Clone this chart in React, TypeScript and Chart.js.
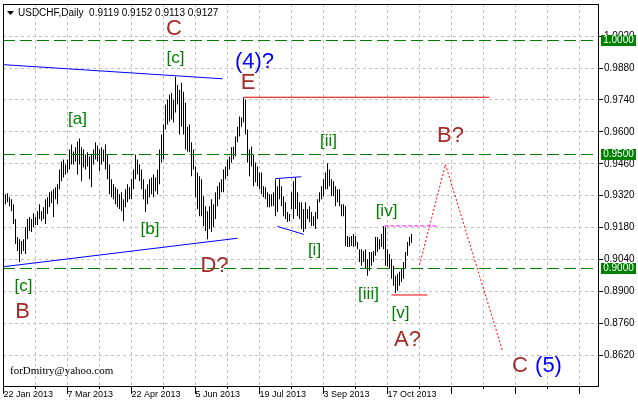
import React, { useEffect, useRef } from 'react';
import { Chart, registerables } from 'chart.js';

Chart.register(...registerables);

// Daily bars (USDCHF, 22 Jan 2013 onward), one entry per trading day
const HIGHS = [
  0.9326, 0.9330, 0.9313, 0.9304, 0.9282, 0.9217, 0.9139, 0.9129, 0.9121, 0.9129,
  0.9182, 0.9217, 0.9226, 0.9217, 0.9243, 0.9226, 0.9252, 0.9282, 0.9252, 0.9269,
  0.9304, 0.9313, 0.9335, 0.9339, 0.9348, 0.9357, 0.9370, 0.9435, 0.9470, 0.9479,
  0.9457, 0.9479, 0.9523, 0.9545, 0.9514, 0.9532, 0.9558, 0.9571, 0.9532, 0.9523,
  0.9501, 0.9510, 0.9492, 0.9501, 0.9523, 0.9554, 0.9540, 0.9523, 0.9532, 0.9523,
  0.9545, 0.9501, 0.9457, 0.9392, 0.9370, 0.9357, 0.9348, 0.9326, 0.9335, 0.9304,
  0.9348, 0.9370, 0.9357, 0.9392, 0.9435, 0.9501, 0.9479, 0.9457, 0.9435, 0.9392,
  0.9348, 0.9370, 0.9392, 0.9400, 0.9413, 0.9400, 0.9435, 0.9523, 0.9588, 0.9632,
  0.9720, 0.9741, 0.9763, 0.9772, 0.9741, 0.9842, 0.9807, 0.9785, 0.9816, 0.9776,
  0.9728, 0.9623, 0.9632, 0.9554, 0.9523, 0.9448, 0.9422, 0.9405, 0.9392, 0.9317,
  0.9274, 0.9252, 0.9274, 0.9304, 0.9282, 0.9335, 0.9361, 0.9379, 0.9392, 0.9435,
  0.9448, 0.9479, 0.9492, 0.9532, 0.9536, 0.9580, 0.9623, 0.9667, 0.9663, 0.9750,
  0.9741, 0.9610, 0.9523, 0.9536, 0.9501, 0.9466, 0.9448, 0.9422, 0.9422, 0.9361,
  0.9357, 0.9335, 0.9326, 0.9326, 0.9335, 0.9392, 0.9361, 0.9392, 0.9361, 0.9317,
  0.9291, 0.9248, 0.9239, 0.9335, 0.9383, 0.9400, 0.9335, 0.9291, 0.9291, 0.9261,
  0.9291, 0.9261, 0.9274, 0.9248, 0.9230, 0.9248, 0.9304, 0.9335, 0.9361, 0.9392,
  0.9422, 0.9462, 0.9435, 0.9392, 0.9383, 0.9361, 0.9348, 0.9348, 0.9282, 0.9282,
  0.9274, 0.9143, 0.9139, 0.9143, 0.9152, 0.9143, 0.9117, 0.9085, 0.9085, 0.9077,
  0.9085, 0.9042, 0.9073, 0.9073, 0.9077, 0.9139, 0.9139, 0.9129, 0.9152, 0.9187,
  0.9182, 0.9085, 0.9064, 0.9042, 0.9012, 0.8968, 0.8977, 0.8986, 0.8999, 0.9029,
  0.9073, 0.9117, 0.9139, 0.9152,
];
const LOWS = [
  0.9282, 0.9291, 0.9274, 0.9252, 0.9195, 0.9108, 0.9077, 0.9029, 0.9064, 0.9077,
  0.9064, 0.9129, 0.9165, 0.9160, 0.9182, 0.9191, 0.9191, 0.9217, 0.9208, 0.9217,
  0.9195, 0.9239, 0.9269, 0.9287, 0.9226, 0.9304, 0.9282, 0.9348, 0.9383, 0.9400,
  0.9413, 0.9422, 0.9435, 0.9457, 0.9457, 0.9470, 0.9413, 0.9457, 0.9383, 0.9444,
  0.9435, 0.9448, 0.9392, 0.9357, 0.9457, 0.9479, 0.9470, 0.9427, 0.9457, 0.9470,
  0.9435, 0.9392, 0.9326, 0.9313, 0.9304, 0.9282, 0.9269, 0.9261, 0.9252, 0.9208,
  0.9269, 0.9291, 0.9304, 0.9304, 0.9348, 0.9392, 0.9413, 0.9383, 0.9348, 0.9304,
  0.9248, 0.9282, 0.9313, 0.9326, 0.9313, 0.9339, 0.9326, 0.9370, 0.9466, 0.9479,
  0.9610, 0.9632, 0.9645, 0.9654, 0.9641, 0.9685, 0.9720, 0.9588, 0.9623, 0.9588,
  0.9523, 0.9514, 0.9510, 0.9405, 0.9435, 0.9313, 0.9261, 0.9230, 0.9230, 0.9187,
  0.9165, 0.9129, 0.9174, 0.9160, 0.9182, 0.9217, 0.9274, 0.9304, 0.9335, 0.9335,
  0.9392, 0.9405, 0.9435, 0.9466, 0.9479, 0.9492, 0.9554, 0.9580, 0.9623, 0.9641,
  0.9588, 0.9466, 0.9405, 0.9448, 0.9361, 0.9379, 0.9361, 0.9348, 0.9326, 0.9313,
  0.9304, 0.9269, 0.9269, 0.9274, 0.9274, 0.9230, 0.9248, 0.9304, 0.9274, 0.9230,
  0.9217, 0.9204, 0.9208, 0.9261, 0.9217, 0.9261, 0.9230, 0.9217, 0.9174, 0.9160,
  0.9174, 0.9217, 0.9204, 0.9187, 0.9187, 0.9174, 0.9217, 0.9291, 0.9304, 0.9317,
  0.9348, 0.9348, 0.9361, 0.9317, 0.9317, 0.9274, 0.9291, 0.9274, 0.9230, 0.9230,
  0.9099, 0.9095, 0.9095, 0.9099, 0.9095, 0.9099, 0.9085, 0.9029, 0.9012, 0.9029,
  0.8999, 0.8968, 0.8990, 0.9012, 0.9029, 0.9056, 0.9073, 0.9085, 0.9095, 0.9085,
  0.9012, 0.9008, 0.8999, 0.8955, 0.8924, 0.8893, 0.8902, 0.8924, 0.8942, 0.8955,
  0.8999, 0.9056, 0.9099, 0.9113,
];

const Y_TICKS = [0.8620, 0.8760, 0.8900, 0.9040, 0.9180, 0.9320, 0.9460, 0.9600, 0.9740, 0.9880, 1.0020];
const TIME_LABELS = ['22 Jan 2013', '7 Mar 2013', '22 Apr 2013', '5 Jun 2013', '19 Jul 2013', '3 Sep 2013', '17 Oct 2013'];
const LEVELS = [1.0, 0.95, 0.9];
const TITLE = 'USDCHF,Daily  0.9119 0.9152 0.9113 0.9127';
const SIGNATURE = 'forDmitry@yahoo.com';

// Drawn objects (bar index, price)
const UPPER_TREND = [{ x: -1, y: 0.9895 }, { x: 108.5, y: 0.9833 }];
const LOWER_TREND = [{ x: -1, y: 0.9008 }, { x: 116, y: 0.9133 }];
const FLAG_TOP = [{ x: 135, y: 0.9395 }, { x: 147.9, y: 0.9403 }];
const FLAG_BOTTOM = [{ x: 135.9, y: 0.9185 }, { x: 149.2, y: 0.9150 }];
const E_LEVEL = [{ x: 119, y: 0.9752 }, { x: 242, y: 0.9752 }];
const IV_LEVEL = [{ x: 189.5, y: 0.9187 }, { x: 216.5, y: 0.9187 }];
const V_LEVEL = [{ x: 193, y: 0.8884 }, { x: 211, y: 0.8884 }];
const FORECAST = [{ x: 207, y: 0.9015 }, { x: 220, y: 0.9457 }, { x: 248.5, y: 0.8639 }];

const WAVE_TEXT = ['C', '[c]', '(4)?', 'E', '[a]', '[b]', '[c]', 'B', 'D?', '[ii]', '[i]', '[iv]', '[iii]', '[v]', 'A?', 'B?', 'C', '(5)'];
const WAVE_X = [84.25, 85, 124.5, 121.25, 36, 72.25, 9, 8.5, 104.5, 161.5, 154.5, 190.5, 181.5, 197.5, 201, 222.5, 257.25, 271.5];
const WAVE_Y = [1.0052, 0.9923, 0.9908, 0.9814, 0.9654, 0.9173, 0.8923, 0.8810, 0.9011, 0.9558, 0.9081, 0.9252, 0.8888, 0.8805, 0.8687, 0.9584, 0.8573, 0.8573];
const WAVE_KIND = ['red', 'green', 'blue', 'red', 'green', 'green', 'green', 'red', 'red', 'green', 'green', 'green', 'green', 'green', 'red', 'red', 'red', 'blue'];

const KIND_COLOR: Record<string, string> = { red: '#a52a2a', green: '#008000', blue: '#0000ff' };
const KIND_SIZE: Record<string, number> = { red: 22, green: 17, blue: 22 };
const SANS = '"Liberation Sans", Arial, sans-serif';

const decor = {
  id: 'decor',
  beforeDatasetsDraw(chart: any) {
    const { ctx, chartArea: a, scales } = chart;
    const xs = scales.x, ys = scales.y;
    ctx.save();
    ctx.strokeStyle = '#c0c0c0';
    ctx.lineWidth = 1;
    ctx.setLineDash([3, 3]);
    Y_TICKS.forEach((v) => {
      const py = Math.floor(ys.getPixelForValue(v)) + 0.5;
      ctx.beginPath(); ctx.moveTo(a.left, py); ctx.lineTo(a.right, py); ctx.stroke();
    });
    xs.ticks.forEach((t: any) => {
      const px = Math.floor(xs.getPixelForValue(t.value)) + 0.5;
      if (px <= a.left + 1) return;
      ctx.beginPath(); ctx.moveTo(px, a.top); ctx.lineTo(px, a.bottom); ctx.stroke();
    });
    ctx.restore();
  },
  afterDatasetsDraw(chart: any) {
    const { ctx, chartArea: a, scales } = chart;
    const ys = scales.y;
    ctx.save();
    ctx.strokeStyle = '#008000';
    ctx.lineWidth = 1;
    ctx.setLineDash([12, 5]);
    LEVELS.forEach((v) => {
      const py = Math.floor(ys.getPixelForValue(v)) + 0.5;
      ctx.beginPath(); ctx.moveTo(a.left, py); ctx.lineTo(a.right, py); ctx.stroke();
    });
    ctx.restore();
  },
  afterDraw(chart: any) {
    const { ctx, chartArea: a, scales } = chart;
    const xs = scales.x, ys = scales.y;
    ctx.save();
    ctx.strokeStyle = '#000';
    ctx.lineWidth = 1;
    ctx.setLineDash([]);
    ctx.strokeRect(Math.floor(a.left) + 0.5, Math.floor(a.top) + 0.5, Math.floor(a.right - a.left) - 1, Math.floor(a.bottom - a.top));
    Y_TICKS.forEach((v) => {
      const py = Math.floor(ys.getPixelForValue(v)) + 0.5;
      ctx.beginPath(); ctx.moveTo(a.right - 1, py); ctx.lineTo(a.right + 4, py); ctx.stroke();
    });
    xs.ticks.forEach((t: any, i: number) => {
      const px = Math.floor(xs.getPixelForValue(t.value)) + 0.5;
      const len = i % 2 === 0 ? 8 : 3;
      ctx.beginPath(); ctx.moveTo(px, a.bottom); ctx.lineTo(px, a.bottom + len); ctx.stroke();
    });
    ctx.font = '10px ' + SANS;
    ctx.textAlign = 'center';
    ctx.textBaseline = 'middle';
    LEVELS.forEach((v) => {
      const py = Math.floor(ys.getPixelForValue(v));
      ctx.fillStyle = '#008000';
      ctx.fillRect(a.right + 2, py - 5, 35, 11);
      ctx.fillStyle = '#fff';
      ctx.fillText(v.toFixed(4), a.right + 19.5, py + 0.5);
    });
    WAVE_TEXT.forEach((txt, i) => {
      const kind = WAVE_KIND[i];
      ctx.font = KIND_SIZE[kind] + 'px ' + SANS;
      ctx.fillStyle = KIND_COLOR[kind];
      ctx.fillText(txt, xs.getPixelForValue(WAVE_X[i]), ys.getPixelForValue(WAVE_Y[i]));
    });
    ctx.fillStyle = '#000';
    ctx.beginPath(); ctx.moveTo(7, 11); ctx.lineTo(14, 11); ctx.lineTo(10.5, 15); ctx.closePath(); ctx.fill();
    ctx.textAlign = 'left';
    ctx.textBaseline = 'alphabetic';
    ctx.font = '10px ' + SANS;
    ctx.fillText(TITLE, 18, 16);
    ctx.font = '11px "Liberation Serif", "Times New Roman", serif';
    ctx.fillText(SIGNATURE, 10, 374);
    ctx.restore();
  },
};

function lineSet(data: { x: number; y: number }[], color: string, dash: number[] = []) {
  return {
    type: 'line' as const,
    data,
    borderColor: color,
    borderWidth: 1,
    borderDash: dash,
    pointRadius: 0,
    fill: false,
    tension: 0,
  };
}

function noPad(s: any) {
  s.paddingTop = 0;
  s.paddingBottom = 0;
  s.paddingLeft = 0;
  s.paddingRight = 0;
}

export default function App() {
  const ref = useRef<HTMLCanvasElement>(null);
  useEffect(() => {
    if (!ref.current) return;
    const bars = HIGHS.map((h, i) => ({ x: i, y: [LOWS[i], h] }));
    const chart = new Chart(ref.current, {
      type: 'bar',
      data: {
        datasets: [
          { type: 'bar', data: bars as any, backgroundColor: '#000', borderWidth: 0, inflateAmount: 0, barThickness: 1, grouped: false } as any,
          lineSet(UPPER_TREND, '#0000ff'),
          lineSet(LOWER_TREND, '#0000ff'),
          lineSet(FLAG_TOP, '#0000ff'),
          lineSet(FLAG_BOTTOM, '#0000ff'),
          lineSet(E_LEVEL, '#e00000'),
          lineSet(IV_LEVEL, '#ff00ff', [4, 2]),
          lineSet(V_LEVEL, '#ff0000'),
          lineSet(FORECAST, '#ff0000', [2, 2]),
        ],
      },
      options: {
        animation: false,
        responsive: false,
        devicePixelRatio: 1,
        layout: { padding: { left: 3, top: 4, right: 0, bottom: 0 } },
        plugins: { legend: { display: false }, tooltip: { enabled: false }, title: { display: false } },
        scales: {
          x: {
            type: 'linear',
            min: -1.25,
            max: 296.75,
            offset: false,
            grid: { display: false, drawTicks: false },
            border: { display: false },
            afterBuildTicks: (s: any) => {
              const t = [];
              for (let v = -1; v <= 296; v += 16) t.push({ value: v });
              s.ticks = t;
            },
            afterFit: (s: any) => { s.height = 18; noPad(s); },
            ticks: {
              autoSkip: false,
              maxRotation: 0,
              minRotation: 0,
              align: 'start',
              padding: 3,
              color: '#000',
              font: { size: 9, family: SANS },
              callback: (v: any) => {
                const k = Math.round((Number(v) + 1) / 16);
                return k % 2 === 0 && TIME_LABELS[k / 2] ? TIME_LABELS[k / 2] : '';
              },
            },
          },
          y: {
            type: 'linear',
            position: 'right',
            min: 0.84844,
            max: 1.01613,
            grid: { display: false, drawTicks: false },
            border: { display: false },
            afterBuildTicks: (s: any) => { s.ticks = Y_TICKS.map((v) => ({ value: v })); },
            afterFit: (s: any) => { s.width = 39; noPad(s); },
            ticks: {
              padding: 5,
              color: '#000',
              font: { size: 10, family: SANS },
              callback: (v: any) => Number(v).toFixed(4),
            },
          },
        },
      } as any,
      plugins: [decor],
    });
    return () => chart.destroy();
  }, []);
  return (
    <div style={{ position: 'absolute', left: 0, top: 0, width: 638, height: 404, background: '#fff' }}>
      <canvas ref={ref} width={638} height={404} style={{ display: 'block' }} />
    </div>
  );
}
